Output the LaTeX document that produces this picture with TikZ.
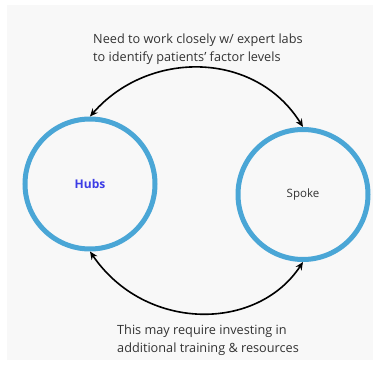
\documentclass[tikz,border=0pt]{standalone}
\usepackage{fontspec}
\setmainfont{Open Sans}
\usetikzlibrary{arrows.meta}
\definecolor{bgc}{RGB}{248,248,248}
\definecolor{ringc}{RGB}{74,166,214}
\definecolor{hubc}{RGB}{60,60,230}
\definecolor{txtc}{RGB}{51,51,51}
\tikzset{
  ring/.style={circle, draw=ringc, line width=5pt, minimum size=130pt, inner sep=0pt, outer sep=2.5pt},
  conn/.style={{Stealth[length=8pt,width=7pt]}-{Stealth[length=8pt,width=7pt]}, line width=1.6pt, black},
  note/.style={font=\fontsize{12.7}{18}\selectfont, text=txtc, align=left, anchor=west, inner sep=0pt}
}
\begin{document}
\begin{tikzpicture}[x=1pt,y=1pt]
\useasboundingbox (0,0) rectangle (373,370);
\fill[bgc] (7,10) rectangle (373,365);
\node[ring] (hubs) at (90,186) {};
\node[ring] (spoke) at (303,175.5) {};
\node[font=\bfseries\fontsize{12}{14}\selectfont, text=hubc] (hubsl) at (hubs.center) {Hubs};
\node[font=\fontsize{11.5}{14}\selectfont, text=txtc] (spokel) at (spoke.center) {Spoke};
\node[note] (top) at (93,321) {Need to work closely w/ expert labs\\to identify patients' factor levels};
\node[note] (bot) at (117,30) {This may require investing in\\additional training \& resources};
\draw[conn] (spoke.north) .. controls (255,320) and (148,320) .. (hubs.north);
\draw[conn] (hubs.south) .. controls (145,38) and (257,38) .. (spoke.south);
\end{tikzpicture}
\end{document}
